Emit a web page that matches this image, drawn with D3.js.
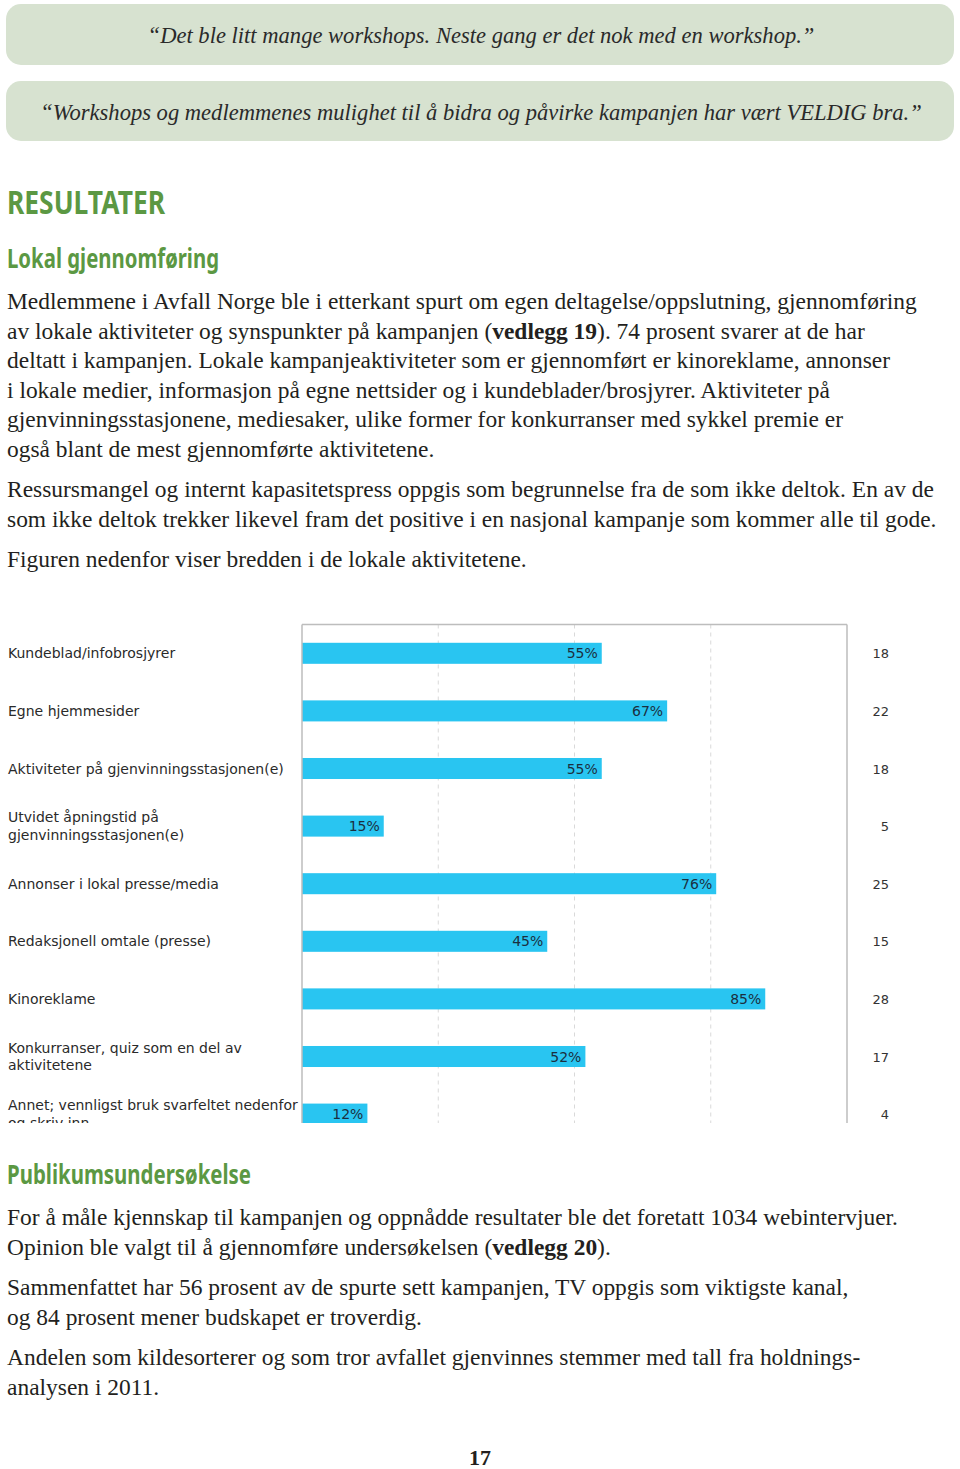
<!DOCTYPE html>
<html>
<head>
<meta charset="utf-8">
<script src="https://cdn.jsdelivr.net/npm/d3@7"></script>
<style>
  html, body { margin: 0; padding: 0; background: #fff; }
  svg { display: block; }
</style>
</head>
<body>
<svg id="page" width="960" height="1469"></svg>
<script>
// ---------- DATA ----------
const quotes = [
  "“Det ble litt mange workshops. Neste gang er det nok med en workshop.”",
  "“Workshops og medlemmenes mulighet til å bidra og påvirke kampanjen har vært VELDIG bra.”"
];
const headingMain = "RESULTATER";
const heading1 = "Lokal gjennomføring";
const heading2 = "Publikumsundersøkelse";
const para1 = [
  "Medlemmene i Avfall Norge ble i etterkant spurt om egen deltagelse/oppslutning, gjennomføring",
  "av lokale aktiviteter og synspunkter på kampanjen (**vedlegg 19**). 74 prosent svarer at de har",
  "deltatt i kampanjen. Lokale kampanjeaktiviteter som er gjennomført er kinoreklame, annonser",
  "i lokale medier, informasjon på egne nettsider og i kundeblader/brosjyrer. Aktiviteter på",
  "gjenvinningsstasjonene, mediesaker, ulike former for konkurranser med sykkel premie er",
  "også blant de mest gjennomførte aktivitetene."
];
const para2 = [
  "Ressursmangel og internt kapasitetspress oppgis som begrunnelse fra de som ikke deltok. En av de",
  "som ikke deltok trekker likevel fram det positive i en nasjonal kampanje som kommer alle til gode."
];
const para3 = ["Figuren nedenfor viser bredden i de lokale aktivitetene."];
const para4 = [
  "For å måle kjennskap til kampanjen og oppnådde resultater ble det foretatt 1034 webintervjuer.",
  "Opinion ble valgt til å gjennomføre undersøkelsen (**vedlegg 20**)."
];
const para5 = [
  "Sammenfattet har 56 prosent av de spurte sett kampanjen, TV oppgis som viktigste kanal,",
  "og 84 prosent mener budskapet er troverdig."
];
const para6 = [
  "Andelen som kildesorterer og som tror avfallet gjenvinnes stemmer med tall fra holdnings-",
  "analysen i 2011."
];
const pageNumber = "17";

const categories = [
  "Kundeblad/infobrosjyrer",
  "Egne hjemmesider",
  "Aktiviteter på gjenvinningsstasjonen(e)",
  "Utvidet åpningstid på\ngjenvinningsstasjonen(e)",
  "Annonser i lokal presse/media",
  "Redaksjonell omtale (presse)",
  "Kinoreklame",
  "Konkurranser, quiz som en del av\naktivitetene",
  "Annet; vennligst bruk svarfeltet nedenfor\nog skriv inn"
];
const percents = [55, 67, 55, 15, 76, 45, 85, 52, 12];
const counts = [18, 22, 18, 5, 25, 15, 28, 17, 4];
const gridTicks = [25, 50, 75];

// ---------- DRAW ----------
const svg = d3.select("#page");
const serif = "'Liberation Serif', 'DejaVu Serif', serif";
const headFont = "'Noto Sans', 'Liberation Sans', sans-serif";
const chartFont = "'DejaVu Sans', Verdana, sans-serif";
const green = "#5b9843";
const textCol = "#231f20";

function measure(str, font, size, style, weight) {
  const t = svg.append("text").attr("font-family", font).attr("font-size", size)
    .attr("font-style", style || "normal").attr("font-weight", weight || "normal").text(str);
  const w = t.node().getComputedTextLength();
  t.remove();
  return w;
}

// Quote boxes
const quoteBoxes = [{y: 4, h: 61, base: 43}, {y: 81, h: 60, base: 120}];
const qfs = 22 * 882 / measure(quotes[1], serif, 22, "italic");
quoteBoxes.forEach((b, i) => {
  svg.append("rect").attr("x", 6).attr("y", b.y).attr("width", 948).attr("height", b.h)
    .attr("rx", 15).attr("ry", 15).attr("fill", "#d7e2d0");
  svg.append("text").attr("x", 481).attr("y", b.base).attr("text-anchor", "middle")
    .attr("font-family", serif).attr("font-style", "italic").attr("font-size", qfs)
    .attr("fill", "#2a2a2a").text(quotes[i]);
});

// Headings (condensed to the reference widths)
function heading(txt, yb, size, width) {
  svg.append("text").attr("x", 7).attr("y", yb).attr("font-family", headFont)
    .attr("font-weight", "bold").attr("font-size", size).attr("fill", green)
    .attr("textLength", width).attr("lengthAdjust", "spacingAndGlyphs").text(txt);
}
heading(headingMain, 214, 32, 158);
heading(heading1, 268, 26, 212);
heading(heading2, 1184, 26, 244);

// Body text
const bfs = 21 * 910 / measure(para1[0], serif, 21);
function drawPara(lines, y0) {
  lines.forEach((line, i) => {
    const t = svg.append("text").attr("x", 7).attr("y", y0 + i * 29.6)
      .attr("font-family", serif).attr("font-size", bfs).attr("fill", textCol);
    line.split("**").forEach((seg, j) => {
      if (seg.length) t.append("tspan").attr("font-weight", j % 2 ? "bold" : "normal").text(seg);
    });
  });
}
drawPara(para1, 309);
drawPara(para2, 497);
drawPara(para3, 567);
drawPara(para4, 1225);
drawPara(para5, 1295);
drawPara(para6, 1365);

svg.append("text").attr("x", 480).attr("y", 1465).attr("text-anchor", "middle")
  .attr("font-family", serif).attr("font-weight", "bold").attr("font-size", 22)
  .attr("fill", textCol).text(pageNumber);

// ---------- CHART ----------
const chartTop = 624.5, bottomClip = 1123;
const x = d3.scaleLinear().domain([0, 100]).range([302, 847]);
const y = d3.scaleBand().domain(categories).range([chartTop, chartTop + 9 * 57.6])
  .paddingInner(0.635).paddingOuter(0.3175);

svg.append("defs").append("clipPath").attr("id", "chartClip")
  .append("rect").attr("x", 0).attr("y", 610).attr("width", 960).attr("height", bottomClip - 610);

const g = svg.append("g").attr("clip-path", "url(#chartClip)");

g.selectAll("line.grid").data(gridTicks).join("line").attr("class", "grid")
  .attr("x1", d => x(d)).attr("x2", d => x(d)).attr("y1", chartTop).attr("y2", bottomClip)
  .attr("stroke", "#d9d9d9").attr("stroke-width", 1).attr("stroke-dasharray", "4,4");

g.selectAll("rect.bar").data(categories).join("rect").attr("class", "bar")
  .attr("x", x(0)).attr("y", d => y(d))
  .attr("width", (d, i) => x(percents[i]) - x(0)).attr("height", y.bandwidth())
  .attr("fill", "#29c5f1");

g.append("line").attr("x1", x(0)).attr("x2", x(100)).attr("y1", chartTop).attr("y2", chartTop)
  .attr("stroke", "#bdbdbd").attr("stroke-width", 1.5);
g.append("line").attr("x1", x(0)).attr("x2", x(0)).attr("y1", chartTop).attr("y2", bottomClip + 5)
  .attr("stroke", "#bdbdbd").attr("stroke-width", 1.5);
g.append("line").attr("x1", x(100)).attr("x2", x(100)).attr("y1", chartTop).attr("y2", bottomClip + 5)
  .attr("stroke", "#bdbdbd").attr("stroke-width", 1.5);

g.selectAll("text.val").data(categories).join("text").attr("class", "val")
  .attr("x", (d, i) => x(percents[i]) - 4)
  .attr("y", d => y(d) + y.bandwidth() / 2 + 5)
  .attr("text-anchor", "end").attr("font-family", chartFont).attr("font-size", 14)
  .attr("fill", "#1b2f3f").text((d, i) => percents[i] + "%");

g.selectAll("text.cnt").data(categories).join("text").attr("class", "cnt")
  .attr("x", 889).attr("y", d => y(d) + y.bandwidth() / 2 + 5)
  .attr("text-anchor", "end").attr("font-family", chartFont).attr("font-size", 13)
  .attr("fill", "#333").text((d, i) => counts[i]);

g.selectAll("text.cat").data(categories).join("text").attr("class", "cat")
  .attr("font-family", chartFont).attr("font-size", 14).attr("fill", "#2a2a2a")
  .each(function(d) {
    const lines = d.split("\n");
    const cy = y(d) + y.bandwidth() / 2;
    const lh = 17.5;
    const t = d3.select(this);
    lines.forEach((ln, k) => {
      t.append("tspan").attr("x", 8)
        .attr("y", cy + 5 + (k - (lines.length - 1) / 2) * lh).text(ln);
    });
  });
</script>
</body>
</html>
